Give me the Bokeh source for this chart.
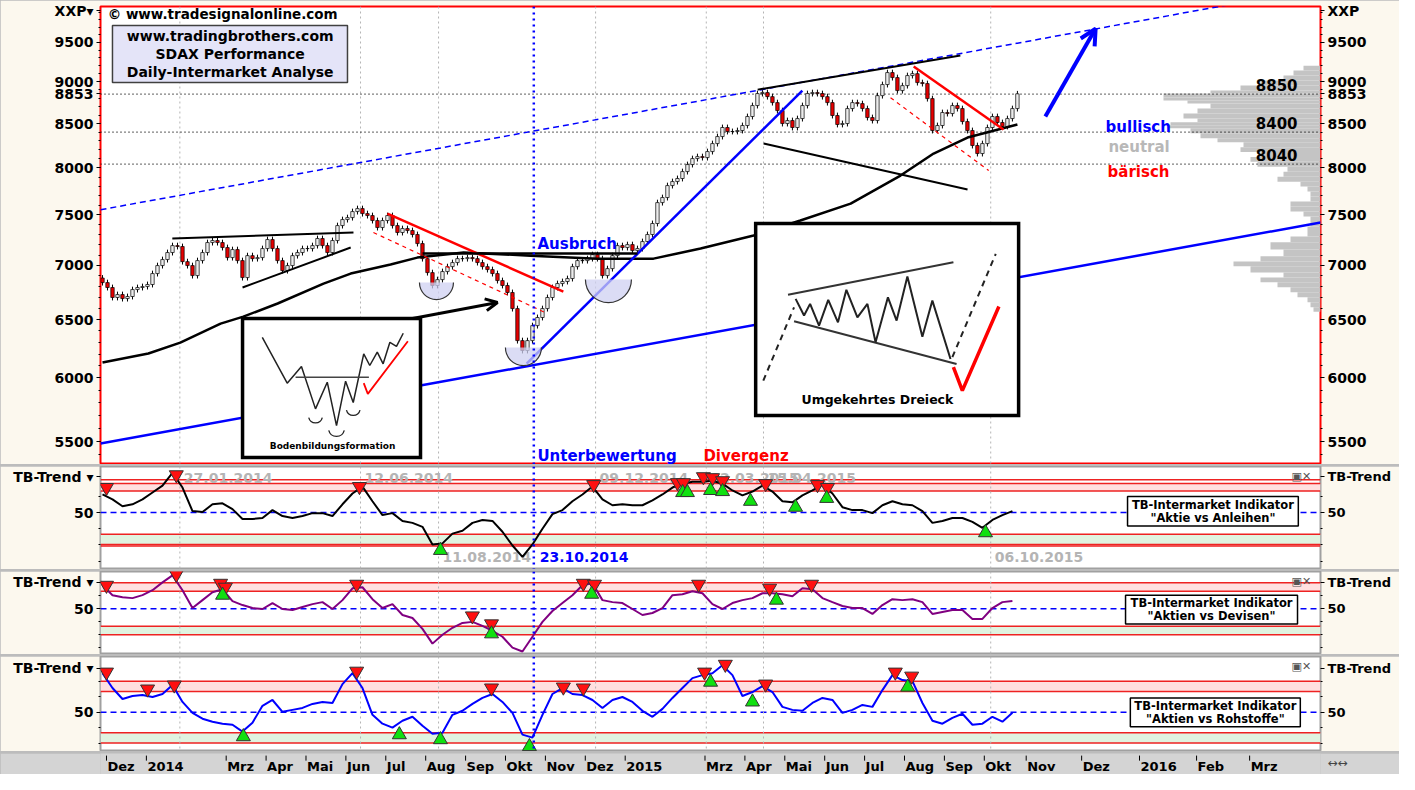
import math
import calendar
from bokeh.plotting import figure
from bokeh.models import (Range1d, FixedTicker, LogAxis, LinearAxis, Label, Arrow,
                          OpenHead, NumeralTickFormatter, Span, BoxAnnotation)
from bokeh.layouts import column
from bokeh.core.properties import value
from bokeh.embed import file_html
from bokeh.resources import INLINE

FONT = "DejaVu Sans"
CREAM = "#fcf8ee"
STRIP = "#d4d4d4"

# ---------------------------------------------------------------- data
# x unit: months since 1 Dec 2013 (future months are wider: calendar days)
month_pos = [0, 1, 3, 4, 5, 6, 7, 8, 9, 10, 11, 12, 13,
             15, 16, 17, 18, 19, 20, 21, 22, 23.05, 24.44, 25.89, 27.32, 28.65]
month_lbl = ["Dez", "2014", "Mrz", "Apr", "Mai", "Jun", "Jul", "Aug", "Sep", "Okt", "Nov", "Dez", "2015",
             "Mrz", "Apr", "Mai", "Jun", "Jul", "Aug", "Sep", "Okt", "Nov", "Dez", "2016", "Feb", "Mrz"]

event_dates = ["27.01.2014", "12.06.2014", "11.08.2014", "09.12.2014", "02.03.2015", "15.04.2015", "06.10.2015"]
event_side = ["top", "top", "bottom", "top", "top", "top", "bottom"]
key_date = "23.10.2014"

last_price = 8853

# SDAX candles (one candle per ~2.6 trading days)
T0 = -0.10
STEP = 0.1253
first_open = 6880
closes = [6837, 6791, 6699, 6726, 6689, 6708, 6772, 6791, 6800, 6819,
          6922, 6998, 7056, 7124, 7192, 7183, 7036, 6998, 6903, 7046,
          7124, 7222, 7242, 7222, 7173, 7075, 7153, 7046, 6884, 7094,
          7065, 7075, 7163, 7252, 7163, 7046, 6950, 6998, 7094, 7124,
          7163, 7163, 7192, 7262, 7192, 7124, 7242, 7392, 7453, 7473,
          7535, 7566, 7514, 7494, 7443, 7372, 7443, 7494, 7392, 7322,
          7362, 7342, 7302, 7212, 7065, 6931, 6810, 6865, 6941, 6988,
          7027, 7065, 7065, 7075, 7065, 7027, 6988, 6960, 6922, 6856,
          6810, 6745, 6598, 6315, 6230, 6315, 6446, 6518, 6598, 6699,
          6791, 6828, 6847, 6875, 6988, 7046, 7046, 7065, 7104, 7065,
          6903, 6969, 7094, 7192, 7173, 7202, 7143, 7163, 7232, 7302,
          7413, 7628, 7681, 7808, 7851, 7884, 7959, 8036, 8102, 8124,
          8113, 8180, 8270, 8350, 8454, 8408, 8408, 8419, 8477, 8582,
          8712, 8856, 8868, 8819, 8747, 8652, 8500, 8535, 8454, 8558,
          8712, 8856, 8868, 8856, 8819, 8747, 8594, 8489, 8500, 8676,
          8747, 8735, 8676, 8570, 8535, 8831, 8966, 9114, 9052, 8892,
          8953, 9077, 9101, 8990, 8978, 8795, 8419, 8477, 8629, 8617,
          8712, 8676, 8523, 8419, 8248, 8158, 8270, 8454, 8582, 8512,
          8466, 8558, 8676, 8853]

# 200-day moving average
ma_t = [-0.10, 1.05, 1.85, 2.86, 3.43, 4.29, 5.44, 6.12, 7.12, 7.79, 8.95,
        10.63, 12.31, 13.71, 14.89, 16.22, 17.39, 18.65, 19.90, 20.73, 21.58, 22.83]
ma_v = [6128, 6205, 6298, 6464, 6526, 6644, 6828, 6922, 7008, 7075, 7124,
        7094, 7065, 7065, 7163, 7292, 7443, 7617, 7916, 8158, 8339, 8489]

# volume-at-price profile
vp_top = [9201, 9139, 9077, 9016, 8954, 8893, 8857, 8808, 8772, 8736, 8677, 8618, 8560, 8514,
          8480, 8445, 8388, 8331, 8286, 8230, 8175, 8120, 8066, 8012, 7958, 7904, 7850, 7797,
          7744, 7691, 7639, 7587, 7535, 7484, 7383, 7283, 7224, 7155, 7087, 7038, 6991, 6933,
          6886, 6840, 6793, 6747, 6701, 6656, 6611]
vp_vol = [17, 27, 37, 60, 80, 110, 157, 157, 133, 110, 123, 137, 123, 150, 153, 130, 120, 103,
          77, 80, 60, 70, 63, 33, 37, 43, 20, 13, 10, 10, 30, 30, 17, 10, 13, 30, 50, 37, 60,
          87, 70, 37, 60, 43, 30, 23, 13, 10, 7]
vp_last_bottom = 6570

price_levels = [8850, 8400, 8040]

# trend lines: (t0, p0, t1, p1, colour, width, dash)
trend_lines = [
    (-0.15, 5486, 30.43, 7423, "blue", 2.5, "solid"),
    (-0.15, 7554, 30.43, 10232, "blue", 1.5, "6 4"),
    (10.53, 6120, 17.44, 8892, "blue", 2.5, "solid"),
    (16.32, 8904, 21.40, 9329, "black", 2, "solid"),
    (16.47, 8270, 21.58, 7766, "black", 2, "solid"),
    (7.04, 7514, 11.45, 6754, "red", 2.5, "solid"),
    (6.69, 7322, 11.05, 6553, "red", 1.2, "4 4"),
    (20.23, 9190, 22.48, 8431, "red", 2.5, "solid"),
    (19.65, 8806, 22.11, 7970, "red", 1.2, "4 4"),
    (1.65, 7262, 6.19, 7322, "black", 2, "solid"),
    (3.41, 6791, 6.12, 7173, "black", 2, "solid"),
    (7.92, 7114, 13.31, 7114, "black", 2.5, "solid"),
]
bottom_t = [8.27, 10.45, 12.58]
bottom_p = [6837, 6255, 6865]
bottom_r = [17, 18, 23]

# indicators (one value per ~5 trading days)
IT0 = -0.10
ISTEP = 0.2506
ind1 = [66.8, 62.3, 55.9, 57.7, 62.3, 68.6, 75.0, 86.8, 73.2, 51.4,
        50.5, 57.7, 58.6, 53.2, 44.1, 44.1, 45.0, 52.3, 46.8, 45.0,
        46.8, 49.5, 49.5, 46.8, 57.7, 67.7, 74.1, 60.5, 47.7, 49.5,
        42.3, 40.5, 36.8, 20.5, 21.5, 30.5, 33.2, 40.5, 43.2, 42.3,
        32.3, 19.5, 9.0, 20.5, 35.0, 48.6, 52.3, 60.5, 66.8, 74.1,
        62.3, 56.8, 57.7, 56.8, 56.8, 61.4, 66.8, 73.2, 76.8, 78.6,
        78.6, 79.5, 76.8, 70.5, 65.9, 69.5, 75.0, 69.5, 60.5, 59.5,
        65.9, 70.5, 75.9, 67.7, 55.0, 52.3, 52.3, 49.5, 56.8, 60.5,
        57.7, 56.8, 51.4, 40.5, 42.3, 45.0, 45.0, 41.4, 35.9, 43.2,
        47.7, 51.4]
ind2 = [76.9, 65.6, 63.3, 62.2, 65.6, 71.3, 80.3, 88.3, 71.3, 50.8,
        59.9, 69.0, 72.4, 58.8, 54.2, 50.8, 49.7, 56.5, 49.7, 48.5,
        51.9, 55.3, 57.6, 49.7, 59.9, 73.5, 74.7, 61.0, 50.8, 55.3,
        42.8, 39.4, 26.9, 9.9, 20.1, 28.1, 33.7, 34.9, 30.3, 24.7,
        17.8, 5.3, 0.8, 17.8, 34.9, 47.4, 56.5, 65.6, 76.9, 79.2,
        59.9, 57.6, 56.5, 49.7, 42.8, 45.1, 50.8, 65.6, 66.7, 70.1,
        67.8, 55.3, 49.7, 56.5, 59.9, 62.2, 67.8, 67.8, 66.7, 64.4,
        73.5, 72.4, 62.2, 57.6, 53.1, 50.8, 50.8, 44.0, 54.2, 61.0,
        59.9, 61.0, 57.6, 44.0, 46.3, 48.5, 48.5, 38.3, 38.3, 50.8,
        57.6, 58.8]
ind3 = [87.8, 73.4, 62.8, 65.7, 66.6, 64.7, 67.6, 76.3, 59.9, 49.3,
        43.6, 40.7, 38.8, 37.8, 31.1, 39.8, 56.1, 61.8, 50.3, 52.2,
        54.1, 58.0, 59.9, 58.9, 77.2, 87.8, 73.4, 47.4, 38.8, 35.0,
        41.6, 45.5, 36.8, 29.1, 30.1, 47.4, 51.3, 58.0, 63.8, 67.6,
        59.9, 49.3, 28.2, 25.3, 47.4, 67.6, 73.4, 67.6, 66.6, 61.8,
        54.1, 61.8, 64.7, 59.9, 51.3, 45.5, 53.2, 63.8, 73.4, 83.0,
        85.9, 87.8, 95.5, 85.9, 65.7, 69.5, 75.3, 69.5, 55.1, 52.2,
        51.3, 58.9, 63.8, 61.8, 49.3, 52.2, 57.0, 55.1, 71.4, 85.9,
        81.1, 80.1, 58.9, 41.6, 38.8, 44.5, 48.4, 37.8, 38.8, 45.5,
        40.7, 49.3]

p1_red_t = [0.00, 1.75, 6.34, 12.21, 14.31, 14.46, 14.96, 15.19, 15.44, 16.52, 17.82, 18.07]
p1_red_v = [73.2, 85.0, 74.1, 75.9, 77.7, 77.7, 83.2, 82.3, 79.5, 76.8, 75.9, 73.2]
p1_grn_t = [8.37, 14.44, 14.56, 15.14, 15.44, 16.14, 17.27, 18.05, 22.03]
p1_grn_v = [15.0, 68.6, 68.6, 70.5, 69.5, 60.5, 55.0, 63.2, 31.4]
p2_red_t = [0.00, 1.75, 2.86, 2.98, 6.27, 9.17, 9.65, 11.95, 12.23, 14.84, 16.62, 17.67]
p2_red_v = [76.9, 89.4, 79.2, 74.7, 78.1, 41.7, 32.6, 79.2, 78.1, 78.1, 73.5, 78.1]
p2_grn_t = [2.91, 9.65, 12.16, 16.79]
p2_grn_v = [65.6, 21.2, 66.7, 59.9]
p3_red_t = [0.00, 1.03, 1.70, 6.27, 9.65, 11.45, 11.95, 14.99, 15.51, 16.52, 19.77, 20.18]
p3_red_v = [88.8, 72.4, 76.3, 89.7, 73.4, 74.3, 73.4, 88.8, 96.4, 77.2, 88.8, 84.9]
p3_grn_t = [3.43, 7.34, 8.37, 10.60, 15.14, 16.19, 20.08]
p3_grn_v = [26.2, 28.1, 23.3, 16.6, 79.1, 59.9, 74.3]

p1_levels = [80.5, 77, 70, 30, 20.5, 19]
p23_levels = [80, 70, 30, 20]


# ---------------------------------------------------------------- helpers
def to_t(s):
    d, m, y = (int(v) for v in s.split("."))
    return (y - 2013) * 12 + (m - 12) + (d - 1) / calendar.monthrange(y, m)[1]


FRAME_W = 1220
BORDER_L = 100
BORDER_R = 79
X_RANGE = Range1d(-0.150, 30.426)


def make_fig(fh, y_range, y_type="linear", outline="#a0a0a0", top=0, fill=CREAM,
             y_loc="left"):
    p = figure(frame_width=FRAME_W, frame_height=fh, x_range=X_RANGE, y_range=y_range,
               y_axis_type=y_type, x_axis_location=None, y_axis_location=y_loc,
               toolbar_location=None, output_backend="svg", title=None,
               min_border_left=BORDER_L, min_border_right=BORDER_R, min_border_top=top,
               min_border_bottom=0, background_fill_color="white", border_fill_color=fill)
    p.xgrid.visible = False
    p.ygrid.visible = False
    p.outline_line_color = outline
    p.outline_line_width = 2
    return p


def style_axis(ax, size="14px"):
    ax.axis_line_color = None
    ax.major_tick_line_color = "black"
    ax.minor_tick_line_color = "black"
    ax.major_tick_out = 4
    ax.major_tick_in = 0
    ax.minor_tick_out = 2
    ax.minor_tick_in = 0
    ax.major_label_text_font = FONT
    ax.major_label_text_font_style = "bold"
    ax.major_label_text_font_size = size
    ax.major_label_text_color = "black"
    ax.major_label_standoff = 3


def slabel(p, x, y, text, size="14px", color="black", align="left", baseline="middle",
           style="bold"):
    p.add_layout(Label(x=x, y=y, x_units="screen", y_units="screen", text=text,
                       text_font=FONT, text_font_size=size, text_color=color,
                       text_align=align, text_baseline=baseline, text_font_style=style))


def ptext(p, xs, ys, texts, color="black", size="15px", align="left", style="bold",
          font=FONT, **kw):
    p.text(x=xs, y=ys, text=texts, text_color=color, text_font_size=size,
           text_align=align, text_baseline="middle", text_font_style=style,
           text_font=value(font), **kw)


ev_t = [to_t(d) for d in event_dates]
key_t = to_t(key_date)


def add_event_lines(p):
    for t in ev_t:
        p.add_layout(Span(location=t, dimension="height", line_color="#b4b4b4",
                          line_dash="2 3", line_width=1, level="underlay"))
    p.add_layout(Span(location=key_t, dimension="height", line_color="blue",
                      line_dash="2 4", line_width=2.5))


def box_map(box, us, vs):
    t0, t1, p_top, p_bot = box
    lt, lb = math.log(p_top), math.log(p_bot)
    return ([t0 + u * (t1 - t0) for u in us],
            [math.exp(lt + v * (lb - lt)) for v in vs])


# ---------------------------------------------------------------- main panel
Y_MAIN = Range1d(5330, 9977)
pm = make_fig(458, Y_MAIN, "log", outline="red", top=6)
major = [5500, 6000, 6500, 7000, 7500, 8000, 8500, 9000, 9500]
minor = list(range(5400, 10000, 100))
top_tick = 9921           # where the instrument name sits
la = pm.yaxis[0]
la.ticker = FixedTicker(ticks=major + [last_price, top_tick], minor_ticks=minor)
la.formatter = NumeralTickFormatter(format="0")
la.major_label_overrides = {top_tick: "XXP\u25be"}
ra = LogAxis(ticker=FixedTicker(ticks=major + [last_price, top_tick], minor_ticks=minor),
             formatter=NumeralTickFormatter(format="0"))
ra.major_label_overrides = {top_tick: "XXP"}
pm.add_layout(ra, "right")
style_axis(la)
style_axis(ra)

# volume profile growing from the right edge
vp_bottom = vp_top[1:] + [vp_last_bottom]
pm.extra_x_ranges = {"vp": Range1d(start=FRAME_W, end=0)}
pm.quad(left=0, right=vp_vol, bottom=vp_bottom, top=vp_top, x_range_name="vp",
        fill_color="#c4c4c4", line_color=None)

add_event_lines(pm)
pm.segment(x0=[X_RANGE.start] * 3, y0=price_levels, x1=[X_RANGE.end] * 3, y1=price_levels,
           line_color="black", line_dash="1 3", line_width=1.3)

# candles
n = len(closes)
ct = [T0 + i * STEP for i in range(n)]
opens = [first_open] + closes[:-1]
tops = [max(o, c) for o, c in zip(opens, closes)]
bots = [min(o, c) for o, c in zip(opens, closes)]
cols = ["#ececec" if c >= o else "#e60000" for o, c in zip(opens, closes)]
pm.segment(x0=ct, y0=[t * 1.004 for t in tops], x1=ct, y1=[b * 0.996 for b in bots],
           line_color="black", line_width=1)
pm.vbar(x=ct, top=tops, bottom=bots, width=0.085, fill_color=cols,
        line_color="black", line_width=0.7)

pm.line(ma_t, ma_v, line_color="black", line_width=2.5)
for t0, p0, t1, p1_, c, w, d in trend_lines:
    pm.line([t0, t1], [p0, p1_], line_color=c, line_width=w, line_dash=d)

pm.wedge(x=bottom_t, y=bottom_p, radius=bottom_r, radius_units="screen",
         start_angle=math.pi, end_angle=2 * math.pi, fill_color="#cfd0f2", fill_alpha=0.75,
         line_color=None)
pm.arc(x=bottom_t, y=bottom_p, radius=bottom_r, radius_units="screen",
       start_angle=math.pi, end_angle=2 * math.pi, line_color="#333333", line_width=1.2)

pm.add_layout(Arrow(end=OpenHead(line_color="black", line_width=3, size=12),
                    x_start=7.67, y_start=6509, x_end=9.80, y_end=6653,
                    line_color="black", line_width=3))
pm.add_layout(Arrow(end=OpenHead(line_color="blue", line_width=4, size=16),
                    x_start=23.53, y_start=8582, x_end=24.79, y_end=9680,
                    line_color="blue", line_width=4))

# inset 1: Bodenbildungsformation
box1 = (3.41, 7.87, 6509, 5381)
pm.quad(left=box1[0], right=box1[1], top=box1[2], bottom=box1[3], fill_color="white",
        line_color="black", line_width=3.5, line_join="miter")
u = [0.111, 0.251, 0.331, 0.410, 0.476, 0.528, 0.579, 0.622, 0.681, 0.715, 0.757, 0.790, 0.828, 0.865, 0.903]
v = [0.135, 0.465, 0.345, 0.650, 0.458, 0.770, 0.451, 0.604, 0.254, 0.338, 0.242, 0.326, 0.171, 0.201, 0.106]
xs, ys = box_map(box1, u, v)
pm.line(xs, ys, line_color="#222222", line_width=1.5)
xs, ys = box_map(box1, [0.298, 0.710], [0.422, 0.422])
pm.line(xs, ys, line_color="#444444", line_width=1.5)
xs, ys = box_map(box1, [0.681, 0.704, 0.929], [0.465, 0.542, 0.163])
pm.line(xs, ys, line_color="red", line_width=1.8)
xs, ys = box_map(box1, [0.410, 0.528, 0.622], [0.700, 0.790, 0.647])
pm.arc(x=xs, y=ys, radius=[7, 8, 7], radius_units="screen", start_angle=math.pi * 1.08,
       end_angle=math.pi * 1.92, line_color="#222222", line_width=1.3)
xs, ys = box_map(box1, [0.506], [0.919])
ptext(pm, xs, ys, ["Bodenbildungsformation"], size="9px", align="center")

# inset 2: Umgekehrtes Dreieck
box2 = (16.27, 22.86, 7412, 5699)
pm.quad(left=box2[0], right=box2[1], top=box2[2], bottom=box2[3], fill_color="white",
        line_color="black", line_width=3.5, line_join="miter")
for uu, vv in (([0.123, 0.752], [0.371, 0.201]), ([0.146, 0.764], [0.509, 0.731])):
    xs, ys = box_map(box2, uu, vv)
    pm.line(xs, ys, line_color="#333333", line_width=2)
u = [0.152, 0.184, 0.207, 0.241, 0.276, 0.313, 0.345, 0.387, 0.425, 0.456, 0.503, 0.536, 0.577, 0.634, 0.672, 0.741]
v = [0.392, 0.479, 0.418, 0.531, 0.397, 0.514, 0.345, 0.488, 0.418, 0.618, 0.384, 0.505, 0.276, 0.589, 0.401, 0.705]
xs, ys = box_map(box2, u, v)
pm.line(xs, ys, line_color="#222222", line_width=2)
for uu, vv in (([0.029, 0.146], [0.818, 0.436]), ([0.748, 0.913], [0.696, 0.158])):
    xs, ys = box_map(box2, uu, vv)
    pm.line(xs, ys, line_color="#222222", line_width=2, line_dash="6 5")
xs, ys = box_map(box2, [0.752, 0.786, 0.925], [0.748, 0.870, 0.432])
pm.line(xs, ys, line_color="red", line_width=3.5)
xs, ys = box_map(box2, [0.463], [0.918])
ptext(pm, xs, ys, ["Umgekehrtes Dreieck"], size="12.5px", align="center")

# title box
pm.quad(left=0.15, right=6.04, top=9720, bottom=8990, fill_color="#e4e4f8",
        line_color="#404040", line_width=1.5)
ptext(pm, [3.10] * 3, [9587, 9355, 9126],
      ["www.tradingbrothers.com", "SDAX Performance", "Daily-Intermarket Analyse"],
      size="14px", align="center")
ptext(pm, [0.03], [9880], ["\u00a9 www.tradesignalonline.com"], size="13.5px")

# main-panel texts
ptext(pm, [25.04], [8465], ["bullisch"], color="blue")
ptext(pm, [25.11], [8235], ["neutral"], color="#b8b8b8")
ptext(pm, [25.09], [7955], ["bärisch"], color="red")
ptext(pm, [29.85] * 3, [8955, 8512, 8140], [str(v_) for v_ in price_levels], align="right")
ptext(pm, [10.80], [7212], ["Ausbruch"], color="blue")
ptext(pm, [10.80], [5391], ["Unterbewertung"], color="blue")
ptext(pm, [14.96], [5391], ["Divergenz"], color="red")


# ---------------------------------------------------------------- indicator panels
def make_panel(fh, yr, vals, color, red_t, red_v, grn_t, grn_v, levels, pink, green,
               box, caption, minor_ticks, name_v):
    p = make_fig(fh, Range1d(*yr))
    l_ax = p.yaxis[0]
    l_ax.ticker = FixedTicker(ticks=[50, name_v], minor_ticks=minor_ticks)
    l_ax.major_label_overrides = {name_v: "TB-Trend \u25be"}
    r_ax = LinearAxis(ticker=FixedTicker(ticks=[50, name_v], minor_ticks=minor_ticks))
    r_ax.major_label_overrides = {name_v: "TB-Trend"}
    p.add_layout(r_ax, "right")
    style_axis(l_ax)
    style_axis(r_ax, size="13px")
    p.add_layout(BoxAnnotation(bottom=pink[0], top=pink[1], fill_color="#ffe0e0", fill_alpha=1,
                               line_color=None, level="underlay"))
    p.add_layout(BoxAnnotation(bottom=green[0], top=green[1], fill_color="#e0f3e0", fill_alpha=1,
                               line_color=None, level="underlay"))
    for lv in levels:
        p.add_layout(Span(location=lv, dimension="width", line_color="#ee2222", line_width=1.5,
                          level="underlay"))
    p.add_layout(Span(location=50, dimension="width", line_color="blue", line_dash="6 4",
                      line_width=1.5, level="underlay"))
    add_event_lines(p)
    xs_ = [IT0 + i * ISTEP for i in range(len(vals))]
    p.line(xs_, vals, line_color=color, line_width=2)
    p.scatter(red_t, red_v, marker="inverted_triangle", size=14, fill_color="#ff1010",
              line_color="#333333", line_width=1)
    p.scatter(grn_t, grn_v, marker="triangle", size=14, fill_color="#10e010",
              line_color="#333333", line_width=1)
    l, r, t, b, y1, y2 = box
    p.quad(left=l, right=r, top=t, bottom=b, fill_color="white", line_color="black",
           line_width=1.5)
    ptext(p, [(l + r) / 2] * 2, [y1, y2], ["TB-Intermarket Indikator", caption],
          size="11.5px", align="center")
    slabel(p, 1191, fh - 10, "\u25a3\u2715", size="11px", color="#555555", style="normal")
    return p


p1 = make_panel(103, (-2.7, 92.7), ind1, "black", p1_red_t, p1_red_v, p1_grn_t, p1_grn_v,
                p1_levels, (70, 77), (20.5, 30), (25.59, 29.87, 65.0, 37.7, 56.8, 45.0),
                '"Aktie vs Anleihen"', [5, 20, 35, 65], 83.2)
p2 = make_panel(83, (-2.6, 92.8), ind2, "#800080", p2_red_t, p2_red_v, p2_grn_t, p2_grn_v,
                p23_levels, (70, 80), (20, 30), (25.54, 29.85, 65.6, 32.6, 56.5, 41.7),
                '"Aktien vs Devisen"', [5, 20, 35, 65], 80.3)
p3 = make_panel(95, (11.8, 104.0), ind3, "blue", p3_red_t, p3_red_v, p3_grn_t, p3_grn_v,
                p23_levels, (70, 80), (20, 30), (25.66, 29.92, 63.8, 35.9, 56.1, 43.6),
                '"Aktien vs Rohstoffe"', [20, 35, 65, 80], 92.6)

# date labels in the first indicator panel
side_v = {"top": 82.3, "bottom": 8.6}
ptext(p1, ev_t, [side_v[s] for s in event_side], event_dates, color="#b4b4b4",
      size="14px", x_offset=4)
ptext(p1, [key_t], [side_v["bottom"]], [key_date], color="blue", size="14px", x_offset=6)
# keep the date labels behind line and triangles
p1.renderers = p1.renderers[-2:] + p1.renderers[:-2]

# ---------------------------------------------------------------- date strip
pa = make_fig(21, Range1d(0, 1), outline=None, fill=STRIP, y_loc=None)
pa.background_fill_color = STRIP
nm = len(month_pos)
pa.segment(x0=month_pos, y0=[0.66] * nm, x1=month_pos, y1=[0.90] * nm,
           line_color="black", line_width=1)
ptext(pa, month_pos, [0.36] * nm, month_lbl, size="13px", x_offset=1)
icon_ax = LinearAxis(ticker=FixedTicker(ticks=[0.55]))
icon_ax.major_label_overrides = {0.55: "\u2194\u2194"}
icon_ax.axis_line_color = None
icon_ax.major_tick_line_color = None
icon_ax.major_tick_out = 0
icon_ax.minor_tick_line_color = None
icon_ax.major_label_standoff = 7
icon_ax.major_label_text_font = FONT
icon_ax.major_label_text_font_size = "12px"
icon_ax.major_label_text_color = "#444444"
pa.add_layout(icon_ax, "right")

layout = column(pm, p1, p2, p3, pa, spacing=2, styles={"background-color": "#bcbcbc"})
open("out.html", "w").write(file_html(layout, INLINE))
